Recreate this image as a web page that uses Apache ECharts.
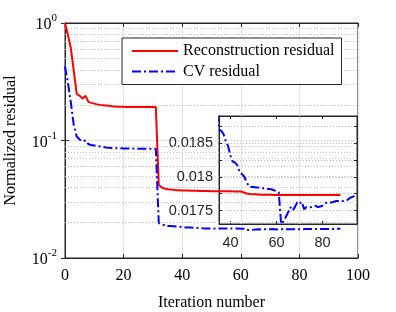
<!DOCTYPE html>
<html>
<head>
<meta charset="utf-8">
<script src="https://cdn.jsdelivr.net/npm/echarts@6/dist/echarts.min.js"></script>
<style>
html,body{margin:0;padding:0;background:#fff;}
#chart{width:396px;height:312px;}
</style>
</head>
<body>
<div id="chart"></div>
<script>
// ---- data ----
const seriesNames = ['Reconstruction residual', 'CV residual'];
const reconResidual = [
  1.0, 0.79, 0.61, 0.39, 0.249, 0.24, 0.228, 0.24, 0.213, 0.209,
  0.206, 0.203, 0.201, 0.2, 0.199, 0.198, 0.196, 0.195, 0.194, 0.194,
  0.1935, 0.1932, 0.193, 0.193, 0.193, 0.1928, 0.1928, 0.1928, 0.1927, 0.1927,
  0.1927, 0.1926, 0.042, 0.0398, 0.039, 0.0385, 0.0382, 0.038, 0.0378, 0.0377,
  0.0376, 0.0375, 0.0375, 0.0374, 0.0374, 0.0373, 0.0372, 0.0372, 0.0371, 0.0371,
  0.037, 0.037, 0.037, 0.0369, 0.0369, 0.0369, 0.0369, 0.0369, 0.0368, 0.0368,
  0.0368, 0.0362, 0.0354, 0.0351, 0.0349, 0.0348, 0.0347, 0.0346, 0.0346, 0.0345,
  0.0345, 0.0344, 0.0344, 0.0344, 0.0344, 0.0344, 0.0344, 0.0344, 0.0344, 0.0344,
  0.0344, 0.0344, 0.0344, 0.0344, 0.0344, 0.0344, 0.0344, 0.0344, 0.0344, 0.0344,
  0.0344, 0.0344, 0.0344, 0.0344, 0.0344
];
const cvResidual = [
  0.427, 0.31, 0.21, 0.135, 0.108, 0.102, 0.098, 0.1, 0.093, 0.0915,
  0.0905, 0.0895, 0.089, 0.088, 0.0872, 0.0866, 0.0862, 0.086, 0.0858, 0.0857,
  0.0856, 0.0855, 0.0854, 0.0853, 0.0852, 0.0852, 0.0851, 0.0851, 0.085, 0.085,
  0.085, 0.085, 0.0199, 0.0193, 0.019, 0.0187, 0.01868, 0.01863, 0.01852, 0.01845,
  0.01831, 0.01822, 0.01821, 0.01817, 0.01806, 0.01804, 0.018, 0.01792, 0.01786, 0.01785,
  0.01785, 0.01784, 0.01784, 0.01784, 0.01783, 0.01783, 0.01782, 0.01782, 0.01781, 0.0178,
  0.01778, 0.01777, 0.0173, 0.01734, 0.0174, 0.01747, 0.01755, 0.0175, 0.01755, 0.01762,
  0.0176, 0.01763, 0.01752, 0.01755, 0.01755, 0.01755, 0.01756, 0.01757, 0.01755, 0.01756,
  0.01757, 0.0176, 0.01762, 0.01762, 0.01762, 0.01763, 0.01764, 0.01764, 0.01764, 0.01764,
  0.01765, 0.01766, 0.01769, 0.0177, 0.01772
];
const xTicks = [0, 20, 40, 60, 80, 100];
const yDecades = [0.01, 0.1, 1];
const yMinorGrid = [0.02,0.03,0.04,0.05,0.06,0.07,0.08,0.09,0.2,0.3,0.4,0.5,0.6,0.7,0.8,0.9];
const insetXTicks = [40, 60, 80];
const insetYLabels = [0.0175, 0.018, 0.0185];
const insetYTicks = [0.0175, 0.01775, 0.018, 0.01825, 0.0185, 0.01875];

// ---- build ----
const pairs = arr => arr.map((v, i) => [i, v]);
const AX = '#262626';
const SERIF = 'Liberation Serif';
const SANS = 'Liberation Sans';
const dashDot = [9, 3, 2, 3];

const chart = echarts.init(document.getElementById('chart'), null, {renderer: 'canvas'});
const option = {
  animation: false,
  backgroundColor: '#fff',
  grid: [
    {left: 65, top: 23, right: 38, bottom: 54, show: true, borderColor: AX, borderWidth: 1,
     containLabel: false, outerBoundsMode: 'none'},
    {left: 219, top: 116, right: 39, bottom: 88, show: true, borderColor: AX, borderWidth: 1,
     backgroundColor: 'transparent', containLabel: false, outerBoundsMode: 'none'}
  ],
  legend: {
    data: seriesNames,
    orient: 'vertical',
    left: 122, top: 38,
    backgroundColor: '#fff',
    borderColor: AX, borderWidth: 1,
    padding: [5, 7, 5, 9],
    itemWidth: 46, itemHeight: 14, itemGap: 4.5,
    itemStyle: {opacity: 0},
    textStyle: {fontFamily: SERIF, fontSize: 16, color: '#000', lineHeight: 16},
    selectedMode: false
  },
  xAxis: [
    {gridIndex: 0, type: 'value', min: 0, max: 100, interval: 20, position: 'bottom',
     axisLine: {show: true, lineStyle: {color: AX}},
     axisTick: {show: true, inside: true, length: 4, lineStyle: {color: AX}},
     axisLabel: {fontFamily: SERIF, fontSize: 16, color: '#000', margin: 10},
     splitLine: {show: true, lineStyle: {color: '#e2e2e2', width: 1}},
     name: 'Iteration number', nameLocation: 'middle', nameGap: 37,
     nameTextStyle: {fontFamily: SERIF, fontSize: 16, color: '#000'}},
    {gridIndex: 0, type: 'value', min: 0, max: 100, interval: 20, position: 'top',
     axisLine: {show: true, lineStyle: {color: AX}},
     axisTick: {show: true, inside: true, length: 4, lineStyle: {color: AX}},
     axisLabel: {show: false}, splitLine: {show: false}},
    {gridIndex: 1, type: 'value', min: 35, max: 95, position: 'bottom',
     axisLine: {show: true, lineStyle: {color: AX}},
     axisTick: {show: true, inside: true, length: 3, customValues: insetXTicks, lineStyle: {color: AX}},
     axisLabel: {customValues: insetXTicks, fontFamily: SANS, fontSize: 14.5, color: AX, margin: 11},
     splitLine: {show: false}},
    {gridIndex: 1, type: 'value', min: 35, max: 95, position: 'top',
     axisLine: {show: true, lineStyle: {color: AX}},
     axisTick: {show: true, inside: true, length: 3, customValues: insetXTicks, lineStyle: {color: AX}},
     axisLabel: {show: false}, splitLine: {show: false}}
  ],
  yAxis: [
    {gridIndex: 0, type: 'log', logBase: 10, min: 0.01, max: 1, position: 'left',
     axisLine: {show: true, lineStyle: {color: AX}},
     axisTick: {show: true, inside: true, length: 4, lineStyle: {color: AX}},
     axisLabel: {
       margin: 8,
       formatter: v => '{b|10}{s|' + Math.round(Math.log10(v)) + '}',
       rich: {
         b: {fontFamily: SERIF, fontSize: 16, color: '#000', lineHeight: 20, verticalAlign: 'bottom'},
         s: {fontFamily: SERIF, fontSize: 11, color: '#000', lineHeight: 20, verticalAlign: 'top'}
       }
     },
     splitLine: {show: true, lineStyle: {color: '#e2e2e2', width: 1}},
     name: 'Normalized residual', nameLocation: 'middle', nameGap: 46, nameRotate: 90,
     nameTextStyle: {fontFamily: SERIF, fontSize: 16, color: '#000'}},
    {gridIndex: 0, type: 'log', logBase: 10, min: 0.01, max: 1, position: 'right',
     axisLine: {show: true, lineStyle: {color: AX}},
     axisTick: {show: true, inside: true, length: 4, lineStyle: {color: AX}},
     axisLabel: {show: false}, splitLine: {show: false}},
    {gridIndex: 1, type: 'value', min: 0.0173, max: 0.0189, position: 'left',
     axisLine: {show: true, lineStyle: {color: AX}},
     axisTick: {show: true, inside: true, length: 3, customValues: insetYTicks, lineStyle: {color: AX}},
     axisLabel: {customValues: insetYLabels, fontFamily: SANS, fontSize: 14.5, color: AX, margin: 6},
     splitLine: {show: true, lineStyle: {color: '#bdbdbd', type: [1, 2], width: 1}}},
    {gridIndex: 1, type: 'value', min: 0.0173, max: 0.0189, position: 'right',
     axisLine: {show: true, lineStyle: {color: AX}},
     axisTick: {show: true, inside: true, length: 3, customValues: insetYTicks, lineStyle: {color: AX}},
     axisLabel: {show: false}, splitLine: {show: false}}
  ],
  series: [
    {name: seriesNames[0], type: 'line', xAxisIndex: 0, yAxisIndex: 0, data: pairs(reconResidual),
     showSymbol: false, symbol: 'none', lineStyle: {color: '#ff0000', width: 2}, itemStyle: {color: '#ff0000'}, z: 3,
     markLine: {silent: true, symbol: 'none', label: {show: false},
       lineStyle: {color: '#c4c4c4', type: [1, 2], width: 1},
       data: yMinorGrid.map(v => ({yAxis: v})), z: 1}},
    {name: seriesNames[1], type: 'line', xAxisIndex: 0, yAxisIndex: 0, data: pairs(cvResidual),
     showSymbol: false, symbol: 'none', lineStyle: {color: '#0000ff', width: 2, type: dashDot}, itemStyle: {color: '#0000ff'}, z: 3},
    {name: 'CV residual inset', type: 'line', xAxisIndex: 2, yAxisIndex: 2, data: pairs(cvResidual),
     showSymbol: false, symbol: 'none', clip: true, lineStyle: {color: '#0000ff', width: 2, type: dashDot}, itemStyle: {color: '#0000ff'}, z: 3}
  ]
};
chart.setOption(option);
</script>
</body>
</html>
